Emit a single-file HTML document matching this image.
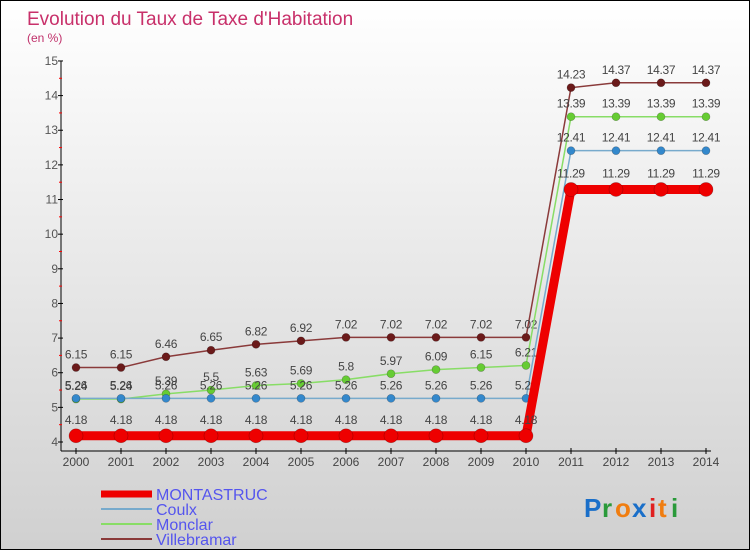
<!DOCTYPE html>
<html><head><meta charset="utf-8">
<style>
body{margin:0;}
#wrap{width:750px;height:550px;position:relative;box-sizing:border-box;border:1px solid #000;background:linear-gradient(#ffffff,#d0d0d0);overflow:hidden;font-family:"Liberation Sans",sans-serif;}
svg text{font-family:"Liberation Sans",sans-serif;}
</style></head>
<body>
<div id="wrap">
<svg id="chart" width="750" height="550">
<text x="26" y="24" font-size="19" fill="#c8306a">Evolution du Taux de Taxe d'Habitation</text>
<text x="26" y="41" font-size="12" fill="#c0306a">(en %)</text>
<g id="axes"></g>
<g id="series"></g>
<g id="legend"></g>
<g font-size="26" font-weight="bold">
<text x="583" y="516" fill="#1a6fc9">P</text><text x="601" y="516" fill="#2a9a3a">r</text><text x="614" y="516" fill="#f07d10">o</text><text x="631" y="516" fill="#1a6fc9">x</text><text x="648" y="516" fill="#e02020">i</text><text x="657" y="516" fill="#f07d10">t</text><text x="670" y="516" fill="#2a9a3a">i</text>
</g>
</svg>
</div>
<script>
const years=[2000,2001,2002,2003,2004,2005,2006,2007,2008,2009,2010,2011,2012,2013,2014];
const montastruc=[4.18,4.18,4.18,4.18,4.18,4.18,4.18,4.18,4.18,4.18,4.18,11.29,11.29,11.29,11.29];
const coulx=[5.26,5.26,5.26,5.26,5.26,5.26,5.26,5.26,5.26,5.26,5.26,12.41,12.41,12.41,12.41];
const monclar=[5.24,5.24,5.39,5.5,5.63,5.69,5.8,5.97,6.09,6.15,6.21,13.39,13.39,13.39,13.39];
const villebramar=[6.15,6.15,6.46,6.65,6.82,6.92,7.02,7.02,7.02,7.02,7.02,14.23,14.37,14.37,14.37];
const yTicks=[4,5,6,7,8,9,10,11,12,13,14,15];
const NS="http://www.w3.org/2000/svg";
const x=i=>75+i*45;
const y=v=>441-(v-4)*34.64;
function mk(tag,attrs,parent){const e=document.createElementNS(NS,tag);for(const k in attrs)e.setAttribute(k,attrs[k]);parent.appendChild(e);return e;}
const axes=document.getElementById('axes');
let e=mk('line',{x1:60,y1:y(15),x2:60,y2:450,stroke:'#000'},axes);


e=mk('line',{x1:60,y1:450,x2:710,y2:450,stroke:'#000'},axes);


yTicks.forEach(t=>{
  mk('line',{x1:57,y1:y(t),x2:62,y2:y(t),stroke:'#000'},axes);
  if(t<15) mk('line',{x1:58,y1:y(t+0.5),x2:61,y2:y(t+0.5),stroke:'#f00'},axes);
  const tx=mk('text',{x:57,y:y(t)+4,'font-size':12,fill:'#555','text-anchor':'end'},axes);
  tx.textContent=t;
  
  
});
years.forEach((yr,i)=>{
  mk('line',{x1:x(i),y1:447,x2:x(i),y2:453,stroke:'#000'},axes);
  const tx=mk('text',{x:x(i),y:465,'font-size':12,fill:'#444','text-anchor':'middle'},axes);
  tx.textContent=yr;
  
  
});
const ser=document.getElementById('series');
const defs=[
 {name:'villebramar',d:villebramar,c:'#6b1a1a',lc:'#8a3a3a',w:1.5,r:4},
 {name:'monclar',d:monclar,c:'#66cc33',lc:'#88dd66',w:1.5,r:4},
 {name:'coulx',d:coulx,c:'#3388cc',lc:'#77aacc',w:1.5,r:4},
 {name:'montastruc',d:montastruc,c:'#ee0000',lc:'#ee0000',w:9,r:7}
];
defs.forEach(s=>{
  const g=mk('g',{},ser);
  
  
  const p=mk('polyline',{points:s.d.map((v,i)=>x(i)+','+y(v)).join(' '),fill:'none',stroke:s.lc,'stroke-width':s.w},g);
  
  
  s.d.forEach((v,i)=>{
    const c=mk('circle',{cx:x(i),cy:y(v),r:s.r,fill:s.c,stroke:'rgba(0,0,0,0.3)','stroke-width':0.6},g);
    
    
    const t=mk('text',{x:x(i),y:y(v)-(s.r>5?12:9),'font-size':12,fill:'#444','text-anchor':'middle','letter-spacing':'-0.3'},g);
    t.textContent=String(v);
    
    
  });
});
const leg=document.getElementById('legend');
const items=[['MONTASTRUC','#ee0000',7],['Coulx','#77aacc',2],['Monclar','#88dd66',2],['Villebramar','#8a3a3a',2]];
items.forEach((it,i)=>{
  const yy=493+i*15;
  const l=mk('line',{x1:100,y1:yy,x2:151,y2:yy,stroke:it[1],'stroke-width':it[2]},leg);
  
  
  const t=mk('text',{x:155,y:yy+6,'font-size':16,fill:'#5555ee'},leg);
  t.textContent=it[0];
  
  
});
</script>
</body></html>
